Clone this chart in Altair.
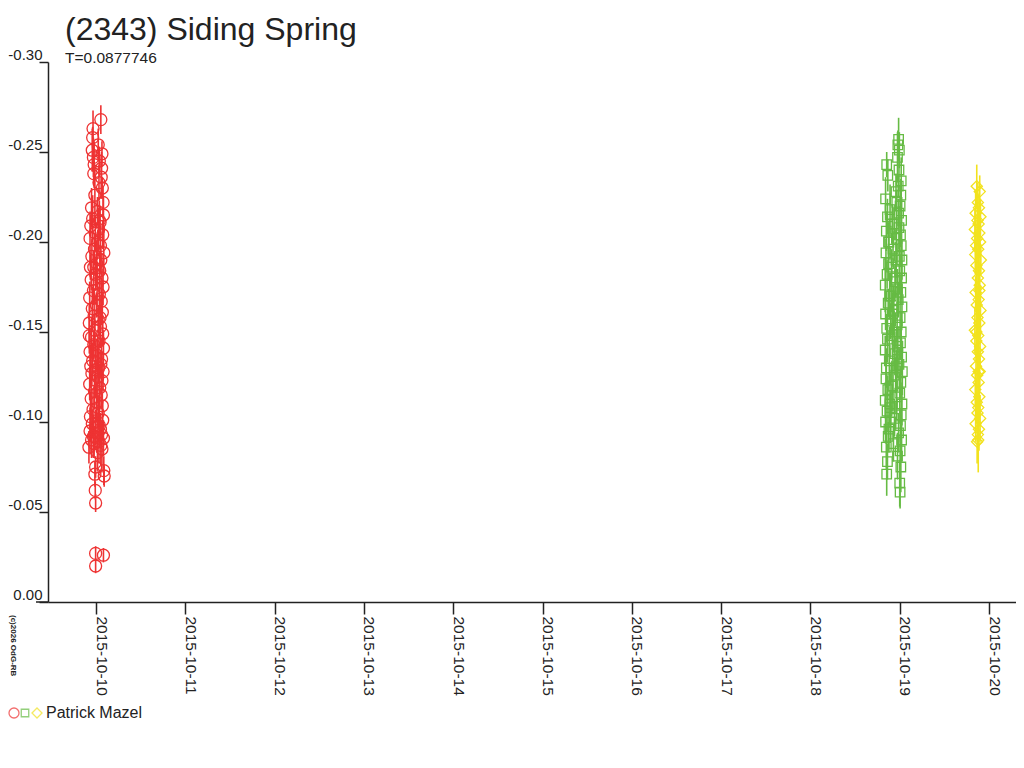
import altair as alt
import pandas as pd

FONT = "Liberation Sans"

# ---- red series (2015-10-10), hours relative to 2015-10-10 00:00 ----
red_hours = [
    1.3, -0.8, -0.9, 0.6, -1.0, 1.6, -0.7, 0.9, -0.5, 1.5,
    -0.6, 1.4, 0.8, 1.7, -0.3, 1.9, -1.2, 0.4, 2.0, -0.9,
    1.1, -1.4, 0.7, -0.2, 1.8, -1.6, 0.5, 1.2, -0.4, 2.1,
    -1.1, 1.3, 0.2, -1.5, 1.0, -0.1, 1.6, -1.3, 0.3, 1.9,
    -0.7, 0.9, -1.7, 1.4, 0.1, -1.0, 1.7, -0.5, 0.6, -1.8,
    1.2, -0.3, 1.8, -1.2, 0.8, -0.6, 2.0, -1.6, 0.4, 1.5,
    -0.9, 0.0, 1.3, -1.4, 0.7, -0.2, 1.9, -1.1, 0.5, 1.6,
    -1.7, 1.0, -0.4, 1.4, -1.3, 0.2, 1.7, -0.8, 0.6, -1.5,
    1.8, -1.0, 0.9, -0.2, 1.2, -1.6, 0.3, 1.5, -0.7, 2.0,
    -1.2, 0.8, -0.5, 1.3, -1.9, 1.6, 0.4, -0.1, 2.1, -0.3,
    2.2, -0.2, -0.1, -0.1, 2.0, -0.1, -1.8, 1.1, -0.6, 0.9,
]
red_mag = [
    -0.268, -0.263, -0.258, -0.254, -0.251, -0.249, -0.247, -0.245, -0.243, -0.241,
    -0.238, -0.236, -0.233, -0.230, -0.226, -0.222, -0.219, -0.217, -0.215, -0.213,
    -0.211, -0.209, -0.207, -0.205, -0.204, -0.202, -0.200, -0.198, -0.196, -0.194,
    -0.192, -0.190, -0.188, -0.186, -0.184, -0.182, -0.180, -0.179, -0.177, -0.175,
    -0.173, -0.171, -0.169, -0.167, -0.165, -0.163, -0.161, -0.159, -0.157, -0.155,
    -0.153, -0.151, -0.149, -0.147, -0.145, -0.143, -0.141, -0.139, -0.137, -0.135,
    -0.134, -0.133, -0.132, -0.131, -0.130, -0.129, -0.128, -0.127, -0.125, -0.123,
    -0.121, -0.119, -0.117, -0.115, -0.113, -0.111, -0.109, -0.107, -0.105, -0.103,
    -0.101, -0.099, -0.098, -0.097, -0.096, -0.095, -0.094, -0.093, -0.092, -0.091,
    -0.090, -0.089, -0.088, -0.087, -0.086, -0.085, -0.083, -0.075, -0.073, -0.071,
    -0.070, -0.062, -0.055, -0.027, -0.026, -0.020, -0.148, -0.158, -0.186, -0.212,
]
red_err = [
    0.008, 0.010, 0.006, 0.009, 0.012, 0.007, 0.011, 0.008, 0.013, 0.009,
    0.007, 0.012, 0.010, 0.006, 0.014, 0.009, 0.011, 0.008, 0.010, 0.013,
    0.009, 0.006, 0.012, 0.010, 0.008, 0.015, 0.007, 0.011, 0.009, 0.012,
    0.010, 0.008, 0.013, 0.007, 0.011, 0.009, 0.014, 0.006, 0.012, 0.010,
    0.008, 0.011, 0.009, 0.013, 0.007, 0.012, 0.010, 0.015, 0.008, 0.011,
    0.012, 0.009, 0.007, 0.011, 0.014, 0.008, 0.010, 0.013, 0.009, 0.012,
    0.010, 0.013, 0.008, 0.012, 0.009, 0.015, 0.011, 0.007, 0.014, 0.010,
    0.009, 0.012, 0.010, 0.008, 0.013, 0.011, 0.007, 0.012, 0.009, 0.014,
    0.011, 0.008, 0.012, 0.010, 0.009, 0.013, 0.011, 0.008, 0.012, 0.010,
    0.010, 0.012, 0.008, 0.011, 0.009, 0.013, 0.010, 0.006, 0.008, 0.007,
    0.006, 0.005, 0.005, 0.004, 0.004, 0.004, 0.010, 0.012, 0.009, 0.011,
]

# ---- green series (2015-10-19), hours relative to 2015-10-19 00:00 ----
green_hours = [
    -0.3, -0.5, -0.1, -0.6, -3.5, -0.2, -3.2, 0.4, -0.4, -1.0,
    0.3, -3.8, -0.8, 0.1, -2.6, -0.3, -3.3, 0.5, -1.5, -0.2,
    -3.6, 0.2, -0.9, -2.9, 0.4, -1.8, -3.7, -0.1, 0.6, -3.0,
    -2.2, 0.0, -3.4, 0.5, -1.2, -3.9, -0.6, 0.3, -2.7, -0.4,
    -3.1, 0.6, -1.6, -3.8, 0.1, -2.4, -0.7, -3.5, 0.4, -1.9,
    -3.3, 0.2, -0.5, -3.9, -1.3, 0.5, -2.8, -0.2, -3.6, 0.7,
    -1.1, -3.7, 0.3, -2.1, -3.2, 0.0, -0.8, -3.9, 0.6, -2.5,
    -3.4, 0.4, -1.4, -3.8, 0.2, -2.9, -0.3, -3.1, 0.5, -1.7,
    -3.6, 0.1, -0.6, -3.3, 0.3, -3.5, 0.0, 0.1, -2.0, -1.0,
    -2.3, -1.5, -0.9, -2.6, -3.0, -1.2, -2.0, -0.7, -1.8, -2.4,
]
green_mag = [
    -0.257, -0.254, -0.251, -0.247, -0.243, -0.240, -0.237, -0.234, -0.231, -0.228,
    -0.226, -0.224, -0.222, -0.220, -0.218, -0.216, -0.214, -0.212, -0.210, -0.208,
    -0.206, -0.204, -0.202, -0.200, -0.198, -0.196, -0.194, -0.192, -0.190, -0.188,
    -0.186, -0.184, -0.182, -0.180, -0.178, -0.176, -0.174, -0.172, -0.170, -0.168,
    -0.166, -0.164, -0.162, -0.160, -0.158, -0.156, -0.154, -0.152, -0.150, -0.148,
    -0.146, -0.144, -0.142, -0.140, -0.138, -0.136, -0.134, -0.132, -0.130, -0.128,
    -0.126, -0.124, -0.122, -0.120, -0.118, -0.116, -0.114, -0.112, -0.110, -0.108,
    -0.106, -0.104, -0.102, -0.100, -0.098, -0.096, -0.094, -0.092, -0.090, -0.088,
    -0.086, -0.084, -0.081, -0.078, -0.075, -0.071, -0.066, -0.061, -0.210, -0.190,
    -0.170, -0.150, -0.130, -0.110, -0.200, -0.180, -0.160, -0.140, -0.120, -0.100,
]
green_err = [
    0.012, 0.008, 0.010, 0.014, 0.007, 0.011, 0.009, 0.013, 0.006, 0.010,
    0.009, 0.012, 0.007, 0.011, 0.014, 0.008, 0.010, 0.013, 0.009, 0.012,
    0.011, 0.007, 0.013, 0.009, 0.012, 0.010, 0.008, 0.014, 0.011, 0.009,
    0.010, 0.013, 0.008, 0.012, 0.009, 0.015, 0.011, 0.007, 0.013, 0.010,
    0.008, 0.011, 0.014, 0.009, 0.012, 0.010, 0.013, 0.008, 0.011, 0.014,
    0.013, 0.009, 0.011, 0.008, 0.012, 0.010, 0.014, 0.009, 0.011, 0.013,
    0.010, 0.012, 0.009, 0.014, 0.008, 0.011, 0.013, 0.010, 0.012, 0.009,
    0.011, 0.014, 0.010, 0.012, 0.009, 0.013, 0.011, 0.008, 0.012, 0.010,
    0.012, 0.009, 0.013, 0.010, 0.014, 0.012, 0.013, 0.009, 0.011, 0.010,
    0.009, 0.012, 0.010, 0.013, 0.011, 0.008, 0.012, 0.010, 0.014, 0.011,
]

# ---- yellow series (2015-10-20), hours relative to 2015-10-20 00:00 ----
yellow_hours = [
    -3.3, -2.5, -3.0, -2.7, -3.6, -2.3, -3.1, -2.8, -3.8, -2.6,
    -3.2, -2.4, -3.5, -2.9, -3.7, -2.2, -3.4, -2.7, -3.0, -2.5,
    -3.6, -2.8, -3.3, -2.3, -3.1, -2.6, -3.8, -2.9, -3.4, -2.4,
    -3.0, -2.7, -3.5, -2.5, -3.2, -2.8, -3.7, -2.6, -3.3, -2.9,
    -3.1, -2.4, -3.6, -2.7, -3.0, -2.9, -3.2, -2.6, -3.4, -2.8,
]
yellow_mag = [
    -0.231, -0.228, -0.222, -0.219, -0.216, -0.214, -0.212, -0.210, -0.207, -0.205,
    -0.202, -0.200, -0.198, -0.196, -0.193, -0.190, -0.187, -0.184, -0.180, -0.176,
    -0.172, -0.168, -0.165, -0.162, -0.158, -0.155, -0.151, -0.148, -0.145, -0.142,
    -0.139, -0.135, -0.131, -0.128, -0.126, -0.122, -0.118, -0.114, -0.111, -0.108,
    -0.105, -0.102, -0.099, -0.096, -0.093, -0.090, -0.089, -0.173, -0.150, -0.128,
]
yellow_err = [
    0.012, 0.009, 0.011, 0.008, 0.013, 0.010, 0.012, 0.009, 0.011, 0.014,
    0.010, 0.012, 0.009, 0.013, 0.011, 0.008, 0.012, 0.010, 0.013, 0.011,
    0.009, 0.012, 0.010, 0.014, 0.011, 0.009, 0.013, 0.010, 0.012, 0.011,
    0.013, 0.010, 0.012, 0.009, 0.014, 0.011, 0.010, 0.013, 0.012, 0.010,
    0.011, 0.013, 0.010, 0.012, 0.014, 0.018, 0.012, 0.011, 0.013, 0.010,
]

day_ticks = [0, 1, 2, 3, 4, 5, 6, 7, 8, 9, 10]
mag_ticks = [-0.30, -0.25, -0.20, -0.15, -0.10, -0.05, 0.0]

title_text = "(2343) Siding Spring"
subtitle_text = "T=0.0877746"
observer = "Patrick Mazel"
copyright_text = "(c)2026 OdG-RB"

series_defs = [
    ("red", 0, red_hours, red_mag, red_err),
    ("green", 9, green_hours, green_mag, green_err),
    ("yellow", 10, yellow_hours, yellow_mag, yellow_err),
]
rows = []
for name, base, hrs, mags, errs in series_defs:
    assert len(hrs) == len(mags) == len(errs), name
    for h, m, e in zip(hrs, mags, errs):
        rows.append({"series": name, "day": base + h / 24.0, "mag": m,
                     "lo": m - e, "hi": m + e})
df = pd.DataFrame(rows)

colors = {"red": "#EE3333", "green": "#66BB44", "yellow": "#F2E21E"}
shapes = {"red": "circle", "green": "square", "yellow": "diamond"}
sizes = {"red": 144, "green": 90, "yellow": 125}
AXIS_COLOR = "#222222"

xscale = alt.Scale(domain=[-0.5375, 10.302], nice=False, zero=False)
yscale = alt.Scale(domain=[-0.30, 0.0], nice=False, zero=False, reverse=True)

xaxis = alt.Axis(
    values=day_ticks, title=None, grid=False,
    labelExpr="'2015-10-' + (10 + datum.value)",
    labelAngle=90, labelAlign="left", labelBaseline="alphabetic",
    labelFont=FONT, labelFontSize=15.5, labelColor=AXIS_COLOR,
    tickSize=12, labelPadding=2, labelFlush=False, labelOverlap=False,
    domainColor=AXIS_COLOR, tickColor=AXIS_COLOR, domainWidth=1.5, tickWidth=1.5,
)
yaxis = alt.Axis(
    values=mag_ticks, title=None, grid=False,
    labelExpr="datum.value < 0 ? '-' + format(-datum.value, '.2f') : format(datum.value, '.2f')",
    labelAlign="right", labelBaseline="bottom",
    labelFont=FONT, labelFontSize=15, labelColor=AXIS_COLOR,
    tickSize=9, labelPadding=-3, labelFlush=False, labelOverlap=False,
    domainColor=AXIS_COLOR, tickColor=AXIS_COLOR, domainWidth=1.5, tickWidth=1.5,
)

layers = []
for name in ["red", "green", "yellow"]:
    sub = df[df["series"] == name]
    bars = alt.Chart(sub).mark_rule(color=colors[name], strokeWidth=1.6).encode(
        x=alt.X("day:Q", scale=xscale, axis=xaxis),
        y=alt.Y("lo:Q", scale=yscale, axis=yaxis),
        y2="hi:Q",
    )
    pts = alt.Chart(sub).mark_point(
        shape=shapes[name], size=sizes[name], filled=False,
        color=colors[name], strokeWidth=1.3, opacity=1,
    ).encode(
        x=alt.X("day:Q", scale=xscale, axis=xaxis),
        y=alt.Y("mag:Q", scale=yscale, axis=yaxis),
    )
    layers += [bars, pts]

# short extension of the x-axis line to the left of the y axis
axis_ext = alt.Chart(pd.DataFrame({"t": [0]})).mark_rule(
    color=AXIS_COLOR, strokeWidth=1.5
).encode(x=alt.value(-12), x2=alt.value(0), y=alt.value(540))

title = alt.Chart(pd.DataFrame({"t": [title_text]})).mark_text(
    font=FONT, fontSize=32, align="left", baseline="alphabetic", color="#222222"
).encode(text="t:N", x=alt.value(17), y=alt.value(-22))
subtitle = alt.Chart(pd.DataFrame({"t": [subtitle_text]})).mark_text(
    font=FONT, fontSize=15.5, align="left", baseline="alphabetic", color="#222222"
).encode(text="t:N", x=alt.value(17), y=alt.value(1))

legend_df = pd.DataFrame({"t": [observer]})
leg_circle = alt.Chart(legend_df).mark_point(
    shape="circle", size=100, filled=False, color=colors["red"], strokeWidth=1.3
).encode(x=alt.value(-34), y=alt.value(651))
leg_square = alt.Chart(legend_df).mark_point(
    shape="square", size=56, filled=False, color=colors["green"], strokeWidth=1.3
).encode(x=alt.value(-23), y=alt.value(651))
leg_diamond = alt.Chart(legend_df).mark_point(
    shape="diamond", size=100, filled=False, color=colors["yellow"], strokeWidth=1.3
).encode(x=alt.value(-11), y=alt.value(651))
leg_text = alt.Chart(legend_df).mark_text(
    font=FONT, fontSize=16, align="left", baseline="middle", color="#222222"
).encode(text="t:N", x=alt.value(-2), y=alt.value(651))

copyright_mark = alt.Chart(pd.DataFrame({"t": [copyright_text]})).mark_text(
    font=FONT, fontSize=8, fontWeight="bold", align="left", baseline="middle",
    angle=90, color="#222222"
).encode(text="t:N", x=alt.value(-35), y=alt.value(553))

chart = alt.layer(
    *layers, axis_ext, title, subtitle, leg_circle, leg_square, leg_diamond,
    leg_text, copyright_mark,
).properties(
    width=968, height=540,
    autosize=alt.AutoSizeParams(type="none"),
    padding={"left": 40, "top": 54, "right": 0, "bottom": 150},
    background="white",
).configure_view(stroke=None)

chart.save("out.html", embed_options={"renderer": "svg", "actions": False})
